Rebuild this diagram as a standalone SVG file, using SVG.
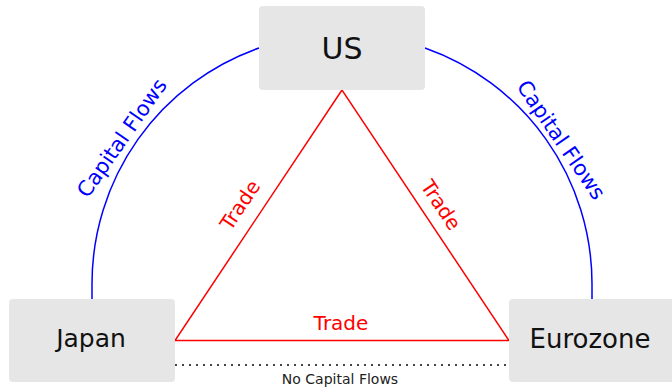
<svg xmlns="http://www.w3.org/2000/svg" width="672" height="388" viewBox="0 0 672 388">
<style>
.box{fill:#e6e6e6;}
.lbl{font-family:"DejaVu Sans","Liberation Sans",sans-serif;fill:#111;text-anchor:middle;}
.cap{fill:none;stroke:#0000ff;stroke-width:1.5;}
.trade{fill:none;stroke:#ff0000;stroke-width:1.5;}
.blue{font-family:"DejaVu Sans","Liberation Sans",sans-serif;fill:#0000ff;font-size:21px;text-anchor:middle;dominant-baseline:central;}
.red{font-family:"DejaVu Sans","Liberation Sans",sans-serif;fill:#ff0000;font-size:20px;text-anchor:middle;dominant-baseline:central;}
</style>
<rect width="672" height="388" fill="#ffffff"/>
<g id="connectors">
  <path class="cap" d="M 92 299 L 92 284 A 250 250 0 0 1 259 48"/>
  <path class="cap" d="M 425 48 A 250 250 0 0 1 592 284 L 592 299"/>
  <path class="trade" d="M 342 90 L 175 340.5 L 509 340.5 Z"/>
  <line x1="175" y1="365" x2="509" y2="365" stroke="#444" stroke-width="2" stroke-dasharray="2,5"/>
  <text class="blue" transform="translate(122,138) rotate(-55)">Capital Flows</text>
  <text class="blue" transform="translate(561,140) rotate(55.6)">Capital Flows</text>
  <text class="red" transform="translate(240,205) rotate(-56.3)">Trade</text>
  <text class="red" transform="translate(441,205) rotate(56.3)">Trade</text>
  <text class="red" x="341" y="323">Trade</text>
  <text x="340" y="384" font-family="DejaVu Sans, Liberation Sans, sans-serif" font-size="14" fill="#222" text-anchor="middle">No Capital Flows</text>
</g>
<g id="us">
  <rect class="box" x="259" y="6" width="166" height="84" rx="4"/>
  <text class="lbl" x="342" y="59" font-size="30">US</text>
</g>
<g id="japan">
  <rect class="box" x="9" y="299" width="166" height="83" rx="4"/>
  <text class="lbl" x="91" y="347" font-size="25">Japan</text>
</g>
<g id="eurozone">
  <rect class="box" x="509" y="299" width="166" height="83" rx="4"/>
  <text class="lbl" x="590" y="348" font-size="26">Eurozone</text>
</g>
</svg>
